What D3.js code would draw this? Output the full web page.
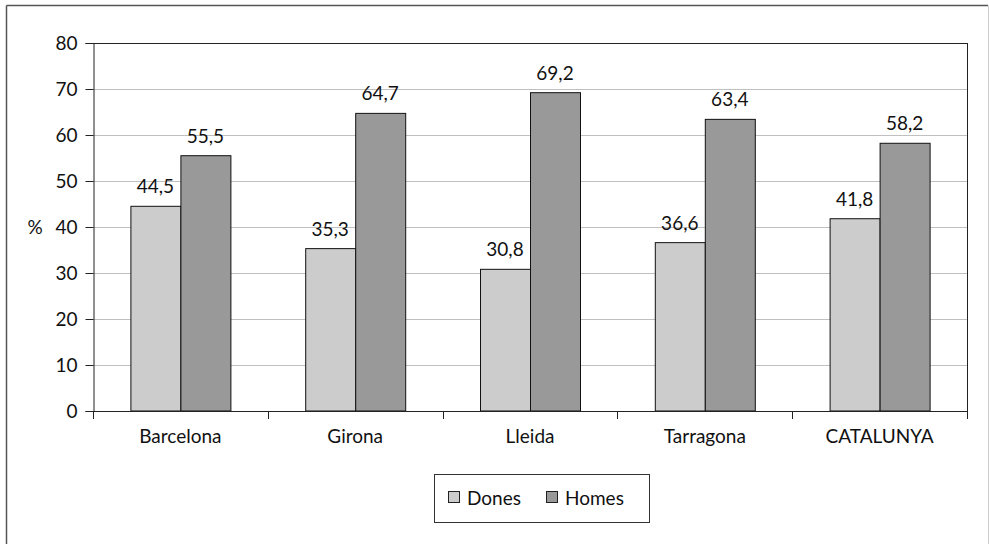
<!DOCTYPE html>
<html>
<head>
<meta charset="utf-8">
<script src="https://cdn.jsdelivr.net/npm/d3@7"></script>
<style>
  html, body { margin: 0; padding: 0; background: #fff; }
  svg { display: block; font-family: Lato, "Noto Sans", sans-serif; }
</style>
</head>
<body>
<svg id="chart" width="989" height="544"></svg>
<script>
// Data
const categories = ["Barcelona", "Girona", "Lleida", "Tarragona", "CATALUNYA"];
const seriesNames = ["Dones", "Homes"];
const dones = [44.5, 35.3, 30.8, 36.6, 41.8];
const homes = [55.5, 64.7, 69.2, 63.4, 58.2];
const yTicks = [0, 10, 20, 30, 40, 50, 60, 70, 80];
const seriesColors = ["#cccccc", "#999999"];

const FONT = "Lato, 'Noto Sans', sans-serif";
const FS = 19;

const svg = d3.select("#chart");
const fmt = v => d3.format(".1f")(v).replace(".", ",");

// Outer frame
svg.append("line").attr("x1", 6.5).attr("y1", 5.5).attr("x2", 6.5).attr("y2", 544).attr("stroke", "#555").attr("stroke-width", 1.5);
svg.append("line").attr("x1", 6.5).attr("y1", 5.5).attr("x2", 988).attr("y2", 5.5).attr("stroke", "#555").attr("stroke-width", 1.5);
svg.append("line").attr("x1", 988.5).attr("y1", 5.5).attr("x2", 988.5).attr("y2", 544).attr("stroke", "#ccc").attr("stroke-width", 1);

const plot = { left: 93, top: 43, right: 967, bottom: 411 };

const x = d3.scaleBand().domain(categories).range([plot.left, plot.right]).padding(0);
const sub = d3.scaleBand().domain(seriesNames).range([0, 100]);
const y = d3.scaleLinear().domain([0, 80]).range([plot.bottom, plot.top]);

// Gridlines
svg.append("g").selectAll("line").data(yTicks.filter(t => t > 0 && t < 80)).join("line")
  .attr("x1", plot.left).attr("x2", plot.right)
  .attr("y1", d => Math.round(y(d)) + 0.5).attr("y2", d => Math.round(y(d)) + 0.5)
  .attr("stroke", "#c0c0c0").attr("stroke-width", 1);

// Plot area top and right border
svg.append("line").attr("x1", plot.left).attr("x2", plot.right + 0.5)
  .attr("y1", plot.top + 0.5).attr("y2", plot.top + 0.5).attr("stroke", "#222");
svg.append("line").attr("x1", plot.right + 0.5).attr("x2", plot.right + 0.5)
  .attr("y1", plot.top).attr("y2", plot.bottom).attr("stroke", "#222");

// Bars
const groups = svg.append("g").selectAll("g").data(categories).join("g")
  .attr("transform", d => `translate(${x(d) + (x.bandwidth() - 100) / 2},0)`);

groups.each(function (c, i) {
  const g = d3.select(this);
  const vals = [dones[i], homes[i]];
  vals.forEach((v, j) => {
    const bx = sub(seriesNames[j]);
    g.append("rect")
      .attr("x", bx + 0.5).attr("y", y(v))
      .attr("width", sub.bandwidth()).attr("height", plot.bottom - y(v))
      .attr("fill", seriesColors[j]).attr("stroke", "#111").attr("stroke-width", 1);
    g.append("text")
      .attr("x", bx + sub.bandwidth() / 2).attr("y", y(v) - 13)
      .attr("text-anchor", "middle").attr("font-size", FS).attr("font-family", FONT).attr("fill", "#111")
      .text(fmt(v));
  });
});

// Y axis
const yAxis = d3.axisLeft(y).tickValues(yTicks).tickSize(8).tickPadding(8).tickFormat(d3.format("d"));
const yg = svg.append("g").attr("transform", `translate(${plot.left + 0.5},0)`).call(yAxis);
yg.attr("font-size", FS).attr("font-family", FONT);
yg.select(".domain").attr("stroke", "#222");
yg.selectAll(".tick line").attr("stroke", "#222");
yg.selectAll("text").attr("fill", "#111");

svg.append("text").attr("x", 35).attr("y", y(40) + 7).attr("text-anchor", "middle")
  .attr("font-size", FS).attr("font-family", FONT).attr("fill", "#111").text("%");

// X axis
const xAxis = d3.axisBottom(x).tickSize(0).tickPadding(18);
const xg = svg.append("g").attr("transform", `translate(0,${plot.bottom + 0.5})`).call(xAxis);
xg.attr("font-size", FS).attr("font-family", FONT);
xg.select(".domain").attr("stroke", "#222").attr("d", `M${plot.left},0H${plot.right + 0.5}`);
xg.selectAll("text").attr("fill", "#111");
// Category boundary tick marks
svg.append("g").selectAll("line").data(d3.range(categories.length + 1)).join("line")
  .attr("x1", i => Math.round(plot.left + i * x.step()) + 0.5)
  .attr("x2", i => Math.round(plot.left + i * x.step()) + 0.5)
  .attr("y1", plot.bottom).attr("y2", plot.bottom + 8)
  .attr("stroke", "#222");

// Legend
const legend = svg.append("g");
legend.append("rect").attr("x", 434.5).attr("y", 474.5).attr("width", 215).attr("height", 48)
  .attr("fill", "#fff").attr("stroke", "#333");
const legendX = [448, 546];
seriesNames.forEach((n, j) => {
  legend.append("rect").attr("x", legendX[j] + 0.5).attr("y", 491.5).attr("width", 11).attr("height", 11)
    .attr("fill", seriesColors[j]).attr("stroke", "#222");
  legend.append("text").attr("x", legendX[j] + 19).attr("y", 505)
    .attr("font-size", FS).attr("font-family", FONT).attr("fill", "#111").text(n);
});
</script>
</body>
</html>
